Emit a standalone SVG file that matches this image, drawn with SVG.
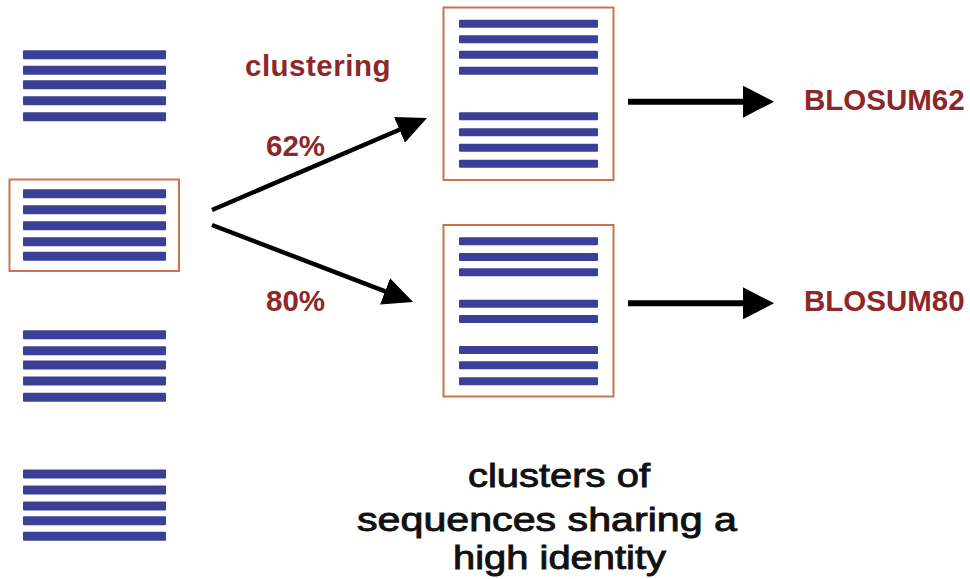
<svg xmlns="http://www.w3.org/2000/svg" width="970" height="579" viewBox="0 0 970 579">
  <style>
    .seq { fill: #3b3f98; }
    .box { fill: none; stroke: #c87450; stroke-width: 2; }
    .lbl { font-family: "Liberation Sans", Arial, sans-serif; font-weight: bold; font-size: 29.5px; fill: #8e2727; }
    .cap { font-family: "Liberation Sans", Arial, sans-serif; font-size: 33px; fill: #111111; stroke: #111111; stroke-width: 0.9; }
    .diag { stroke: #000; stroke-width: 4.5; fill: none; }
    .straight { stroke: #000; stroke-width: 6; fill: none; }
  </style>
  <defs>
    <marker id="headSmall" markerUnits="userSpaceOnUse" markerWidth="30" markerHeight="28" refX="19" refY="14" orient="auto">
      <path d="M0,0 L30,14 L0,28 z" fill="#000"/>
    </marker>
    <marker id="headBig" markerUnits="userSpaceOnUse" markerWidth="31" markerHeight="32" refX="21" refY="16" orient="auto">
      <path d="M0,0 L31,16 L0,32 z" fill="#000"/>
    </marker>
  </defs>
  <rect width="970" height="579" fill="#ffffff"/>

  <!-- loose sequence sets on the left -->
  <g id="set1">
    <rect class="seq" x="23" y="50.2" width="143" height="9" rx="1"/>
    <rect class="seq" x="23" y="65.8" width="143" height="9" rx="1"/>
    <rect class="seq" x="23" y="80.2" width="143" height="9" rx="1"/>
    <rect class="seq" x="23" y="96.2" width="143" height="9" rx="1"/>
    <rect class="seq" x="23" y="112.2" width="143" height="9" rx="1"/>
  </g>
  <g id="set2">
    <rect class="box" x="9.5" y="179.5" width="169.5" height="91.5"/>
    <rect class="seq" x="23" y="189.2" width="143" height="9" rx="1"/>
    <rect class="seq" x="23" y="205.2" width="143" height="9" rx="1"/>
    <rect class="seq" x="23" y="221.2" width="143" height="9" rx="1"/>
    <rect class="seq" x="23" y="237.2" width="143" height="9" rx="1"/>
    <rect class="seq" x="23" y="251.8" width="143" height="9" rx="1"/>
  </g>
  <g id="set3">
    <rect class="seq" x="23" y="330.2" width="143" height="9" rx="1"/>
    <rect class="seq" x="23" y="346.2" width="143" height="9" rx="1"/>
    <rect class="seq" x="23" y="360.5" width="143" height="9" rx="1"/>
    <rect class="seq" x="23" y="376.5" width="143" height="9" rx="1"/>
    <rect class="seq" x="23" y="392.8" width="143" height="9" rx="1"/>
  </g>
  <g id="set4">
    <rect class="seq" x="23" y="469.5" width="143" height="9" rx="1"/>
    <rect class="seq" x="23" y="485.5" width="143" height="9" rx="1"/>
    <rect class="seq" x="23" y="501.5" width="143" height="9" rx="1"/>
    <rect class="seq" x="23" y="516.2" width="143" height="9" rx="1"/>
    <rect class="seq" x="23" y="531.8" width="143" height="9" rx="1"/>
  </g>

  <!-- clustered sets -->
  <g id="cluster62">
    <rect class="box" x="443.5" y="7.5" width="170" height="172.5"/>
    <rect class="seq" x="459" y="19.7" width="139" height="8" rx="1"/>
    <rect class="seq" x="459" y="35.3" width="139" height="8" rx="1"/>
    <rect class="seq" x="459" y="50.7" width="139" height="8" rx="1"/>
    <rect class="seq" x="459" y="66.7" width="139" height="8" rx="1"/>
    <rect class="seq" x="459" y="112.3" width="139" height="8" rx="1"/>
    <rect class="seq" x="459" y="128.3" width="139" height="8" rx="1"/>
    <rect class="seq" x="459" y="143.7" width="139" height="8" rx="1"/>
    <rect class="seq" x="459" y="159.7" width="139" height="8" rx="1"/>
  </g>
  <g id="cluster80">
    <rect class="box" x="443.5" y="225" width="170" height="171.5"/>
    <rect class="seq" x="459" y="237.3" width="139" height="8" rx="1"/>
    <rect class="seq" x="459" y="253" width="139" height="8" rx="1"/>
    <rect class="seq" x="459" y="268.3" width="139" height="8" rx="1"/>
    <rect class="seq" x="459" y="299.7" width="139" height="8" rx="1"/>
    <rect class="seq" x="459" y="315" width="139" height="8" rx="1"/>
    <rect class="seq" x="459" y="346" width="139" height="8" rx="1"/>
    <rect class="seq" x="459" y="361.3" width="139" height="8" rx="1"/>
    <rect class="seq" x="459" y="377.3" width="139" height="8" rx="1"/>
  </g>

  <!-- connectors -->
  <g id="connectors">
    <line class="diag" x1="212" y1="210" x2="416.9" y2="122.3" marker-end="url(#headSmall)"/>
    <line class="diag" x1="212" y1="225" x2="402.8" y2="298.1" marker-end="url(#headSmall)"/>
    <line class="straight" x1="628" y1="101.7" x2="764" y2="101.7" marker-end="url(#headBig)"/>
    <line class="straight" x1="628" y1="303.3" x2="764" y2="303.3" marker-end="url(#headBig)"/>
  </g>

  <!-- labels -->
  <g id="labels">
    <text class="lbl" x="245" y="76" letter-spacing="0.5">clustering</text>
    <text class="lbl" x="266" y="156">62%</text>
    <text class="lbl" x="266" y="310.5">80%</text>
    <text class="lbl" x="804" y="109.5">BLOSUM62</text>
    <text class="lbl" x="804" y="310.5">BLOSUM80</text>
  </g>
  <g id="caption">
    <text class="cap" x="468" y="486.5" textLength="182" lengthAdjust="spacingAndGlyphs">clusters of</text>
    <text class="cap" x="357" y="530.5" textLength="380" lengthAdjust="spacingAndGlyphs">sequences sharing a</text>
    <text class="cap" x="453" y="569" textLength="213" lengthAdjust="spacingAndGlyphs">high identity</text>
  </g>
</svg>
